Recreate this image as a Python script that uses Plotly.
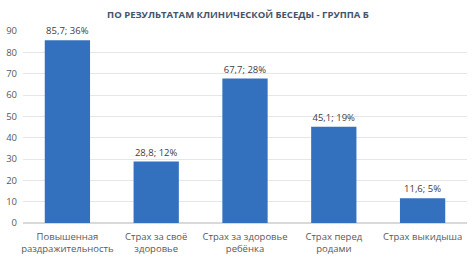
import plotly.graph_objects as go

categories = ["Повышенная<br>раздражительность", "Страх за своё<br>здоровье", "Страх за здоровье<br>ребёнка", "Страх перед<br>родами", "Страх выкидыша"]
values = [85.7, 28.8, 67.7, 45.1, 11.6]
percents = [36, 12, 28, 19, 5]
y_ticks = [0, 10, 20, 30, 40, 50, 60, 70, 80, 90]

labels = [f"{str(v).replace('.', ',')}; {p}%" for v, p in zip(values, percents)]

fig = go.Figure(go.Bar(
    x=categories, y=values, text=labels, textposition="outside",
    textfont=dict(size=9.5, color="#404040"),
    marker=dict(color="#3370bd", line=dict(width=0)),
    cliponaxis=False,
))
fig.update_layout(
    width=476, height=259,
    margin=dict(l=23, r=9, t=31, b=36, autoexpand=False),
    paper_bgcolor="white", plot_bgcolor="white",
    font=dict(family="Open Sans", size=9, color="#595959"),
    title=dict(text="<b>ПО РЕЗУЛЬТАТАМ КЛИНИЧЕСКОЙ БЕСЕДЫ - ГРУППА Б</b>", x=0.5, xanchor="center", y=0.945, yanchor="middle",
               font=dict(size=9.5, color="#44546a")),
    bargap=0.49,
    showlegend=False,
    uniformtext=dict(minsize=8, mode="show"),
)
fig.update_yaxes(range=[0, 90], tickvals=y_ticks, showgrid=True, gridcolor="#e6e6e6", zeroline=True, zerolinecolor="#d9d9d9",
                 tickfont=dict(size=9.5, color="#595959"), ticks="", showline=False, automargin=False, ticklabelstandoff=5)
fig.update_xaxes(tickfont=dict(size=9.5, color="#595959"), ticks="", showline=False, automargin=False, ticklabelstandoff=6)
fig.write_html("out.html", post_script="document.body.style.margin='0';", config={"displayModeBar": False})
